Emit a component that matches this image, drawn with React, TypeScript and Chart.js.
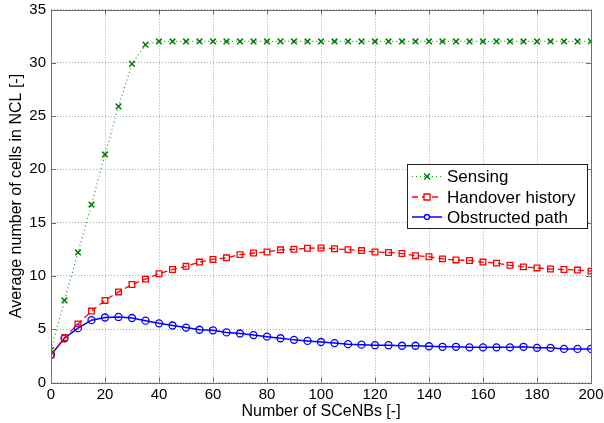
import React, { useEffect, useRef } from "react";
import { Chart, registerables } from "chart.js";

Chart.register(...registerables);

const xValues = [0, 5, 10, 15, 20, 25, 30, 35, 40, 45, 50, 55, 60, 65, 70, 75, 80, 85, 90, 95, 100, 105, 110, 115, 120, 125, 130, 135, 140, 145, 150, 155, 160, 165, 170, 175, 180, 185, 190, 195, 200];

const sensing = [3.05, 7.7, 12.2, 16.7, 21.4, 25.9, 29.9, 31.7, 32, 32, 32, 32, 32, 32, 32, 32, 32, 32, 32, 32, 32, 32, 32, 32, 32, 32, 32, 32, 32, 32, 32, 32, 32, 32, 32, 32, 32, 32, 32, 32, 32];

const handover = [2.6, 4.2, 5.5, 6.7, 7.7, 8.5, 9.2, 9.7, 10.2, 10.6, 10.9, 11.3, 11.55, 11.7, 12.0, 12.15, 12.25, 12.45, 12.5, 12.6, 12.62, 12.55, 12.47, 12.38, 12.25, 12.2, 12.1, 11.9, 11.8, 11.6, 11.5, 11.45, 11.3, 11.2, 11.0, 10.85, 10.75, 10.65, 10.6, 10.55, 10.45];

const obstructed = [2.6, 4.15, 5.1, 5.85, 6.1, 6.15, 6.05, 5.8, 5.55, 5.35, 5.15, 4.95, 4.9, 4.7, 4.6, 4.45, 4.3, 4.15, 4.0, 3.9, 3.8, 3.7, 3.6, 3.55, 3.5, 3.5, 3.45, 3.45, 3.4, 3.35, 3.35, 3.3, 3.3, 3.3, 3.3, 3.35, 3.25, 3.25, 3.15, 3.15, 3.15];

const seriesNames = ["Sensing", "Handover history", "Obstructed path"];
const xTicks = [0, 20, 40, 60, 80, 100, 120, 140, 160, 180, 200];
const yTicks = [0, 5, 10, 15, 20, 25, 30, 35];

const FONT = "'Liberation Sans', Arial, sans-serif";

function drawMarker(ctx: CanvasRenderingContext2D, style: string, x: number, y: number, r: number) {
  ctx.beginPath();
  if (style === "crossRot") {
    ctx.moveTo(x - r, y - r);
    ctx.lineTo(x + r, y + r);
    ctx.moveTo(x + r, y - r);
    ctx.lineTo(x - r, y + r);
  } else if (style === "rect") {
    ctx.rect(x - r, y - r, 2 * r, 2 * r);
  } else {
    ctx.arc(x, y, r, 0, Math.PI * 2);
  }
  ctx.stroke();
}

const boxLegendPlugin = {
  id: "boxLegend",
  afterDraw(chart: any) {
    const ctx = chart.ctx as CanvasRenderingContext2D;
    const area = chart.chartArea;
    ctx.save();
    ctx.strokeStyle = "#6e6e6e";
    ctx.lineWidth = 1;
    ctx.setLineDash([]);
    ctx.strokeRect(Math.round(area.left) + 0.5, Math.round(area.top) + 0.5, Math.round(area.right - area.left), Math.round(area.bottom - area.top));
    const xs = chart.scales.x;
    const ys = chart.scales.y;
    ctx.beginPath();
    xTicks.forEach((t) => {
      const px = Math.round(xs.getPixelForValue(t)) + 0.5;
      ctx.moveTo(px, area.bottom);
      ctx.lineTo(px, area.bottom - 5);
      ctx.moveTo(px, area.top);
      ctx.lineTo(px, area.top + 5);
    });
    yTicks.forEach((t) => {
      const py = Math.round(ys.getPixelForValue(t)) + 0.5;
      ctx.moveTo(area.left, py);
      ctx.lineTo(area.left + 5, py);
      ctx.moveTo(area.right, py);
      ctx.lineTo(area.right - 5, py);
    });
    ctx.stroke();

    const lx = 407, ly = 164, lw = 180, lh = 64;
    ctx.fillStyle = "#ffffff";
    ctx.fillRect(lx, ly, lw, lh);
    ctx.strokeStyle = "#222222";
    ctx.strokeRect(lx + 0.5, ly + 0.5, lw, lh);
    const rows = [176.5, 197, 217];
    chart.data.datasets.forEach((ds: any, i: number) => {
      const y = rows[i];
      ctx.strokeStyle = ds.borderColor;
      ctx.lineWidth = ds.borderWidth;
      ctx.setLineDash(ds.borderDash || []);
      ctx.beginPath();
      ctx.moveTo(412, y);
      ctx.lineTo(442, y);
      ctx.stroke();
      ctx.setLineDash([]);
      ctx.lineWidth = ds.pointBorderWidth;
      ctx.strokeStyle = ds.pointBorderColor;
      const r = ds.pointStyle === "circle" ? 2.5 : 3;
      if (ds.pointStyle !== "crossRot") {
        ctx.fillStyle = "#ffffff";
        ctx.beginPath();
        if (ds.pointStyle === "rect") ctx.rect(427 - r, y - r, 2 * r, 2 * r);
        else ctx.arc(427, y, r, 0, Math.PI * 2);
        ctx.fill();
      }
      drawMarker(ctx, ds.pointStyle, 427, y, r);
      ctx.fillStyle = "#000000";
      ctx.font = `17px ${FONT}`;
      ctx.textBaseline = "middle";
      ctx.textAlign = "left";
      ctx.fillText(ds.label, 447, y + 1);
    });
    ctx.restore();
  },
};

export default function App() {
  const ref = useRef<HTMLCanvasElement | null>(null);
  useEffect(() => {
    document.body.style.margin = "0";
    const canvas = ref.current;
    if (!canvas) return;
    const mk = (vals: number[]) => vals.map((v, i) => ({ x: xValues[i], y: v }));
    const chart = new Chart(canvas, {
      type: "line",
      data: {
        datasets: [
          {
            label: seriesNames[0],
            data: mk(sensing),
            borderColor: "#1f9a1f",
            borderWidth: 1.2,
            borderDash: [1, 3],
            pointStyle: "crossRot",
            pointRadius: 4,
            pointBorderColor: "#008000",
            pointBorderWidth: 1.5,
            pointBackgroundColor: "rgba(0,0,0,0)",
            tension: 0,
          },
          {
            label: seriesNames[1],
            data: mk(handover),
            borderColor: "#ff0000",
            borderWidth: 1.3,
            borderDash: [6, 4],
            pointStyle: "rect",
            pointRadius: 4,
            pointBorderColor: "#ff0000",
            pointBorderWidth: 1.3,
            pointBackgroundColor: "rgba(0,0,0,0)",
            tension: 0,
          },
          {
            label: seriesNames[2],
            data: mk(obstructed),
            borderColor: "#0000ff",
            borderWidth: 1.5,
            pointStyle: "circle",
            pointRadius: 3.5,
            pointBorderColor: "#0000ff",
            pointBorderWidth: 1.3,
            pointBackgroundColor: "rgba(0,0,0,0)",
            tension: 0,
          },
        ],
      },
      options: {
        animation: false,
        responsive: false,
        maintainAspectRatio: false,
        layout: { padding: { top: 9.5, right: 13, left: 0, bottom: 0 } },
        plugins: {
          legend: { display: false },
          tooltip: { enabled: false },
        },
        scales: {
          x: {
            type: "linear",
            min: 0,
            max: 200,
            afterFit: (s: any) => {
              s.height = 40.5;
              s.paddingLeft = 0;
              s.paddingRight = 0;
              s.paddingTop = 0;
              s.paddingBottom = 0;
            },
            afterBuildTicks: (s: any) => {
              s.ticks = xTicks.map((v) => ({ value: v }));
            },
            ticks: {
              color: "#000",
              font: { family: FONT, size: 15 },
              padding: 3,
              maxRotation: 0,
            },
            grid: {
              color: "#a8a8a8",
              drawTicks: false,
            },
            border: { display: false, dash: [1, 2] },
            title: {
              display: true,
              text: "Number of SCeNBs [-]",
              color: "#000",
              font: { family: FONT, size: 16 },
              padding: { top: 0, bottom: 2 },
            },
          },
          y: {
            type: "linear",
            min: 0,
            max: 35,
            afterFit: (s: any) => {
              s.width = 51;
              s.paddingLeft = 0;
              s.paddingRight = 0;
              s.paddingTop = 0;
              s.paddingBottom = 0;
            },
            afterBuildTicks: (s: any) => {
              s.ticks = yTicks.map((v) => ({ value: v }));
            },
            ticks: {
              color: "#000",
              font: { family: FONT, size: 15 },
              padding: 5,
            },
            grid: {
              color: "#a8a8a8",
              drawTicks: false,
            },
            border: { display: false, dash: [1, 2] },
            title: {
              display: true,
              text: "Average number of cells in NCL [-]",
              color: "#000",
              font: { family: FONT, size: 16 },
              padding: { top: 7, bottom: 0 },
            },
          },
        },
      },
      plugins: [boxLegendPlugin],
    });
    return () => chart.destroy();
  }, []);
  return (
    <div style={{ position: "absolute", left: 0, top: 0, width: 604, height: 423, background: "#fff" }}>
      <canvas ref={ref} width={604} height={423} style={{ width: 604, height: 423, display: "block" }} />
    </div>
  );
}
